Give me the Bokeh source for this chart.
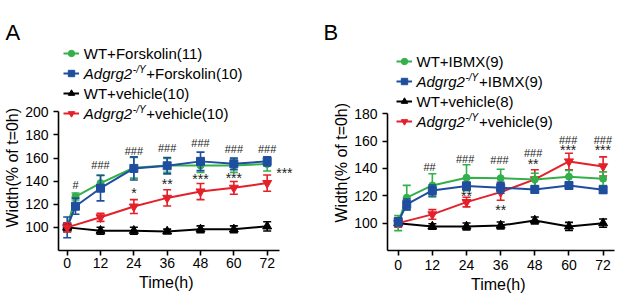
from bokeh.plotting import figure
from bokeh.models import Legend, LegendItem, Label, FixedTicker, Title
from bokeh.layouts import row
from bokeh.embed import file_html
from bokeh.resources import INLINE
from bokeh.core.properties import value

FONT = "Liberation Sans"
GREEN = "#33b04a"
BLUE = "#1f4e9f"
BLACK = "#000000"
RED = "#e4202a"

x_ticks = [0, 12, 24, 36, 48, 60, 72]

# ---------------- Panel A (Forskolin) ----------------
a_time_drug = [0, 3, 12, 24, 36, 48, 60, 72]
a_time_veh = [0, 12, 24, 36, 48, 60, 72]
a_wt_fsk = [100, 126.7, 138.3, 151.6, 153.6, 153.6, 153.6, 154.8]
a_wt_fsk_err = [4, 3, 7, 9, 6, 6, 6, 6]
a_ko_fsk = [100, 118.3, 133.9, 151.0, 153.3, 157.1, 155.0, 157.1]
a_ko_fsk_err = [9, 7, 11, 10, 7, 8, 5, 4]
a_wt_veh = [100, 97.1, 97.1, 96.5, 98.3, 98.3, 100.9]
a_wt_veh_err = [2, 3, 3, 2, 3, 3, 4]
a_ko_veh = [100, 108.7, 118.0, 125.5, 131.0, 134.2, 138.3]
a_ko_veh_err = [4, 3.5, 6, 7, 7, 5.5, 7]
a_labels = ["WT+Forskolin(11)", "+Forskolin(10)", "WT+vehicle(10)", "+vehicle(10)"]
a_y_ticks = [100, 120, 140, 160, 180, 200]
a_ann_x = [3, 12, 24, 36, 48, 60, 72, 24, 36, 48, 60, 78.2]
a_ann_y = [136.6, 153.9, 166.0, 168.3, 172.7, 167.7, 167.7, 129.4, 137.2, 141.5, 142.4, 146.7]
a_ann_t = ["#", "###", "###", "###", "###", "###", "###", "*", "**", "***", "***", "***"]

# ---------------- Panel B (IBMX) ----------------
b_time_drug = [0, 3, 12, 24, 36, 48, 60, 72]
b_time_veh = [0, 12, 24, 36, 48, 60, 72]
b_wt_ibmx = [100, 118.6, 127.6, 133.2, 132.9, 132.0, 134.0, 132.5]
b_wt_ibmx_err = [5.5, 9, 8.5, 9.5, 6.5, 4.5, 4.5, 5]
b_ko_ibmx = [101, 113.7, 123.9, 127.1, 125.9, 124.6, 127.6, 124.4]
b_ko_ibmx_err = [3, 4, 4, 3, 4, 2, 2.5, 2.5]
b_wt_veh = [100, 97.6, 97.6, 98.3, 102.0, 97.6, 100.0]
b_wt_veh_err = [2, 2, 2.5, 2.5, 2.5, 3, 3]
b_ko_veh = [100, 106.4, 115.4, 122.7, 132.0, 145.1, 141.5]
b_ko_veh_err = [3, 3.5, 3.5, 6, 7, 6, 7]
b_labels = ["WT+IBMX(9)", "+IBMX(9)", "WT+vehicle(8)", "+vehicle(9)"]
b_y_ticks = [100, 120, 140, 160, 180]
b_ann_x = [11, 23.5, 35.6, 47.4, 47.4, 59.7, 59.7, 71.9, 71.9, 24, 36]
b_ann_y = [141.0, 147.1, 146.4, 151.2, 143.4, 161.0, 153.7, 161.0, 153.2, 119.5, 109.8]
b_ann_t = ["##", "###", "###", "###", "**", "###", "***", "###", "***", "**", "**"]


def add_series(p, x, y, err, color, marker, size):
    lo = [v - e for v, e in zip(y, err)]
    hi = [v + e for v, e in zip(y, err)]
    p.segment(x0=x, y0=lo, x1=x, y1=hi, line_color=color, line_width=1.6)
    p.scatter(x=x, y=lo, marker="dash", size=8, line_color=color, line_width=1.6)
    p.scatter(x=x, y=hi, marker="dash", size=8, line_color=color, line_width=1.6)
    lr = p.line(x=x, y=y, line_color=color, line_width=2)
    mr = p.scatter(x=x, y=y, marker=marker, size=size, fill_color=color, line_color=color)
    return lr, mr


def lab(p, x, y, text, size, **kw):
    p.add_layout(Label(x=x, y=y, x_units="screen", y_units="screen", text=text,
                       text_font=FONT, text_font_size=size, text_color="black", **kw))


def title(text, size, align, offset, valign, standoff):
    return Title(text=text, text_font=FONT, text_font_size=size, text_font_style="normal",
                 text_color="black", align=align, offset=offset, vertical_align=valign,
                 standoff=standoff)


def make_panel(letter, letter_off, width, border_left, border_right, x_start, x_end,
               y_end, axis_top, y_ticks, x_bounds, tick_standoff, xlab_standoff, series,
               legend_order, labels, ann_x, ann_y, ann_t, leg_x, leg_y, text_x,
               ylab_off, xlab_off):
    p = figure(width=width, height=300, output_backend="svg", toolbar_location=None,
               x_range=(x_start, x_end), y_range=(80, y_end),
               min_border_left=border_left, min_border_right=border_right,
               min_border_top=44, min_border_bottom=50)
    p.outline_line_color = None
    p.grid.visible = False

    for ax in (p.xaxis[0], p.yaxis[0]):
        ax.axis_line_width = 1.6
        ax.major_tick_line_width = 1.6
        ax.major_tick_out = 5
        ax.major_tick_in = 0
        ax.minor_tick_line_color = None
        ax.major_label_text_font = FONT
        ax.major_label_text_font_size = "14px"
        ax.major_label_text_color = "black"
        ax.axis_line_color = "black"
        ax.major_tick_line_color = "black"

    p.xaxis.ticker = FixedTicker(ticks=x_ticks)
    p.xaxis.bounds = x_bounds
    p.xaxis.major_label_standoff = tick_standoff

    p.yaxis.ticker = FixedTicker(ticks=y_ticks)
    p.yaxis.bounds = (80, axis_top)
    p.yaxis.major_label_standoff = 5

    # titles in side panels (letter, axis titles)
    p.title = title(letter, "22px", "left", letter_off, "bottom", 0)
    p.add_layout(title("Width(% of t=0h)", "16px", "left", ylab_off, "top", 0), "left")
    p.add_layout(title("Time(h)", "16px", "left", xlab_off, "top", xlab_standoff), "below")

    rends = []
    for (x, y, err, color, marker, size) in series:
        rends.append(add_series(p, x, y, err, color, marker, size))
    legend_items = [LegendItem(label=" ", renderers=list(rends[i])) for i in legend_order]
    leg = Legend(items=legend_items, location=(leg_x, leg_y), orientation="vertical",
                 glyph_width=16, glyph_height=18, label_height=18, label_width=1,
                 label_standoff=0, spacing=2, padding=0, margin=0,
                 border_line_color=None, background_fill_alpha=0,
                 label_text_font_size="1px")
    p.add_layout(leg)

    top = leg_y + 4 * 18 + 3 * 2
    for i, t in enumerate(labels):
        cy = top - 9 - i * 20
        if t.startswith("WT"):
            lab(p, text_x, cy, t, "15px", text_baseline="middle")
        else:
            lab(p, text_x, cy, "Adgrg2", "15px", text_baseline="middle", text_font_style="italic")
            lab(p, text_x + 49, cy + 4, "-/Y", "10px", text_baseline="middle", text_font_style="italic")
            lab(p, text_x + 62.5, cy, t, "15px", text_baseline="middle")

    sizes = ["14px" if "*" in t else "11px" for t in ann_t]
    p.text(x=ann_x, y=ann_y, text=ann_t, text_font=value(FONT), text_font_size=sizes,
           text_align="center", text_baseline="middle", text_color="#222222")
    return p


pa = make_panel(
    "A", -53, 310, 58, 10, -3.13, 84.0, 80 + 206 / 1.156, 200, a_y_ticks, (-3.13, 76.4), 2, 6,
    [
        (a_time_drug, a_wt_fsk, a_wt_fsk_err, GREEN, "circle", 7),
        (a_time_drug, a_ko_fsk, a_ko_fsk_err, BLUE, "square", 8),
        (a_time_veh, a_wt_veh, a_wt_veh_err, BLACK, "triangle", 9),
        (a_time_veh, a_ko_veh, a_ko_veh_err, RED, "inverted_triangle", 9),
    ],
    [0, 1, 2, 3],
    a_labels, a_ann_x, a_ann_y, a_ann_t, 5, 128, 25.3, 23, 80.5)

pb = make_panel(
    "B", -64, 307, 77, 3, -3.76, 76.0, 80 + 206 / 1.3675, 180, b_y_ticks, "auto", 4, 6,
    [
        (b_time_veh, b_wt_veh, b_wt_veh_err, BLACK, "triangle", 9),
        (b_time_veh, b_ko_veh, b_ko_veh_err, RED, "inverted_triangle", 9),
        (b_time_drug, b_wt_ibmx, b_wt_ibmx_err, GREEN, "circle", 7),
        (b_time_drug, b_ko_ibmx, b_ko_ibmx_err, BLUE, "square", 8),
    ],
    [2, 3, 0, 1],
    b_labels, b_ann_x, b_ann_y, b_ann_t, 9, 120, 29, 28, 83.5)

layout = row(pa, pb)
open("out.html", "w").write(file_html(layout, INLINE))
